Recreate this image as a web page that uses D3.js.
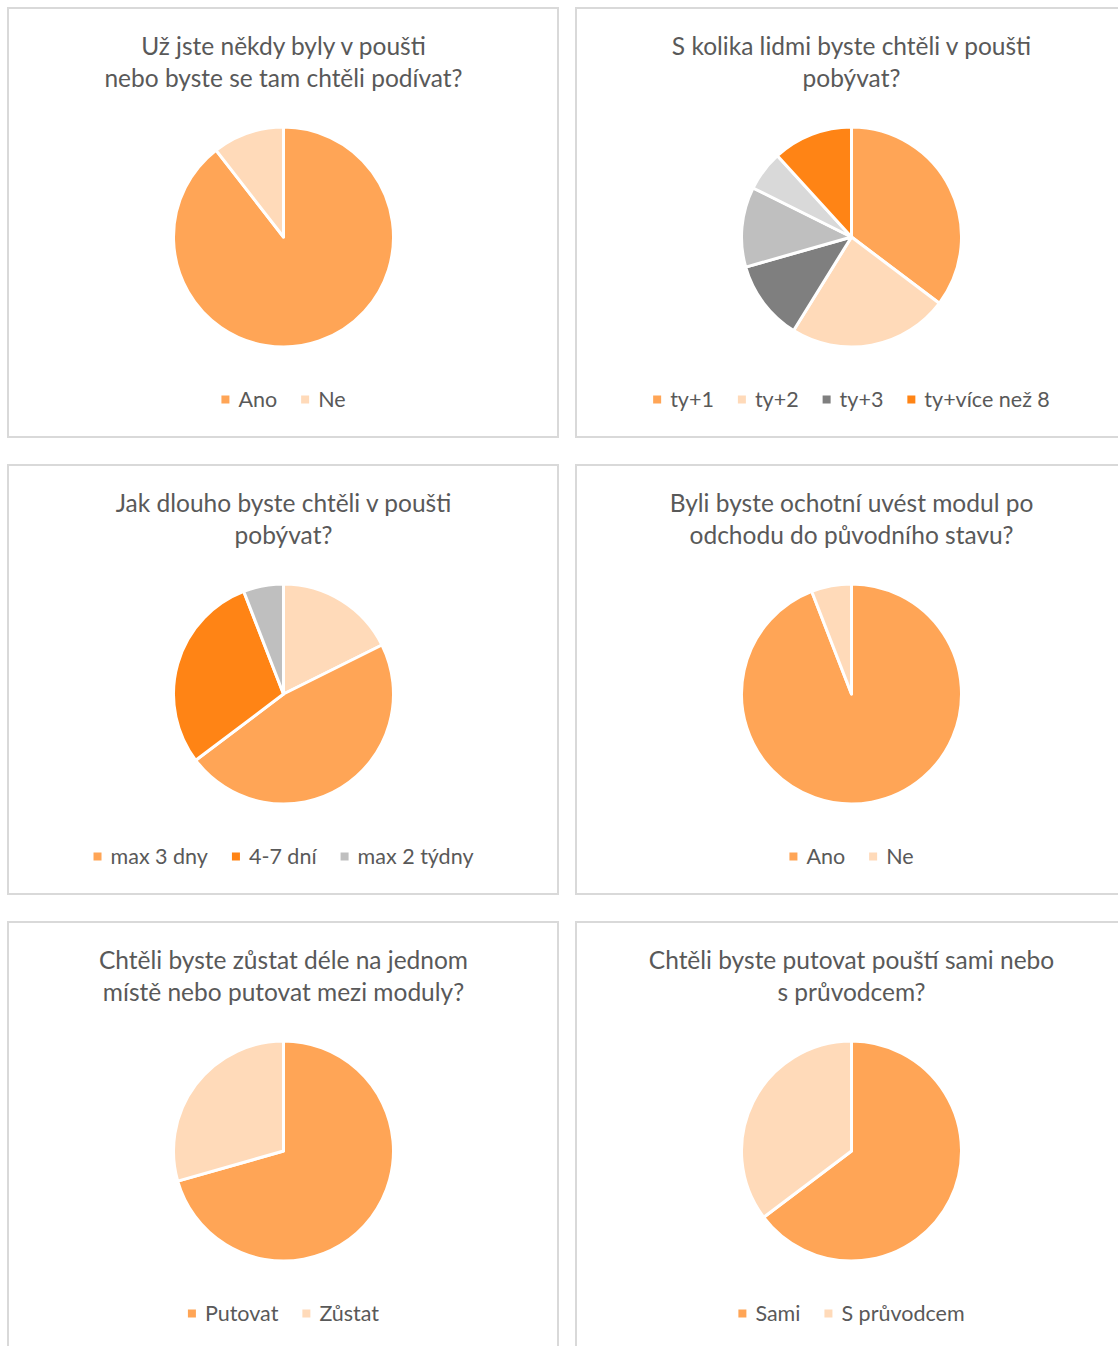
<!DOCTYPE html>
<html>
<head>
<meta charset="utf-8">
<script src="https://cdn.jsdelivr.net/npm/d3@7"></script>
<style>
  html, body { margin: 0; padding: 0; background: #fff; }
  svg { display: block; }
</style>
</head>
<body>
<svg id="chart" width="1118" height="1346"></svg>
<script>
// ---- Data ----
const titles = [
  ["Už jste někdy byly v poušti", "nebo byste se tam chtěli podívat?"],
  ["S kolika lidmi byste chtěli v poušti", "pobývat?"],
  ["Jak dlouho byste chtěli v poušti", "pobývat?"],
  ["Byli byste ochotní uvést modul po", "odchodu do původního stavu?"],
  ["Chtěli byste zůstat déle na jednom", "místě nebo putovat mezi moduly?"],
  ["Chtěli byste putovat pouští sami nebo", "s průvodcem?"]
];

const categories1 = ["Ano", "Ne"];
const values1 = [17, 2];

const categories2 = ["ty+1", "ty+2", "ty+3", "ty+4", "ty+5 až 8", "ty+více než 8"];
const values2 = [6, 4, 2, 2, 1, 2];
const legendShown2 = ["ty+1", "ty+2", "ty+3", "ty+více než 8"];

const categories3 = ["1 den", "max 3 dny", "4-7 dní", "max 2 týdny"];
const values3 = [3, 8, 5, 1];
const legendShown3 = ["max 3 dny", "4-7 dní", "max 2 týdny"];

const categories4 = ["Ano", "Ne"];
const values4 = [16, 1];

const categories5 = ["Putovat", "Zůstat"];
const values5 = [12, 5];

const categories6 = ["Sami", "S průvodcem"];
const values6 = [11, 6];

const colors1 = ["#FFA556", "#FFDAB9"];
const colors2 = ["#FFA556", "#FFDAB9", "#7F7F7F", "#BFBFBF", "#D9D9D9", "#FF8415"];
const colors3 = ["#FFDAB9", "#FFA556", "#FF8415", "#BFBFBF"];

const charts = [
  { cats: categories1, vals: values1, cols: colors1, legend: categories1 },
  { cats: categories2, vals: values2, cols: colors2, legend: legendShown2 },
  { cats: categories3, vals: values3, cols: colors3, legend: legendShown3 },
  { cats: categories4, vals: values4, cols: colors1, legend: categories4 },
  { cats: categories5, vals: values5, cols: colors1, legend: categories5 },
  { cats: categories6, vals: values6, cols: colors1, legend: categories6 }
];

// ---- Layout ----
const svg = d3.select("#chart");
const panelW = 550, panelH = 429;
const colX = [8, 576], rowY = [8, 465, 922];
const textColor = "#595959";
const fontFamily = "Lato, 'Open Sans', sans-serif";
const radius = 110;

const pie = d3.pie().sort(null).value(d => d.v);
const arc = d3.arc().innerRadius(0).outerRadius(radius);

charts.forEach((c, i) => {
  const px = colX[i % 2], py = rowY[Math.floor(i / 2)];
  const g = svg.append("g").attr("transform", `translate(${px},${py})`);

  g.append("rect")
    .attr("x", 0).attr("y", 0).attr("width", panelW).attr("height", panelH)
    .attr("fill", "#fff").attr("stroke", "#D9D9D9").attr("stroke-width", 2);

  const cx = panelW / 2 + 0.5;

  // title
  const t = g.append("text")
    .attr("text-anchor", "middle")
    .attr("font-family", fontFamily)
    .attr("font-size", 24.5)
    .attr("fill", textColor);
  titles[i].forEach((line, k) => {
    t.append("tspan").attr("x", cx).attr("y", 46.5 + k * 32).text(line);
  });

  // pie
  const color = d3.scaleOrdinal().domain(c.cats).range(c.cols);
  const data = c.cats.map((k, j) => ({ k, v: c.vals[j] }));
  const pg = g.append("g").attr("transform", `translate(${cx},229)`);
  pg.selectAll("path")
    .data(pie(data))
    .join("path")
    .attr("d", arc)
    .attr("fill", d => color(d.data.k))
    .attr("stroke", "#fff")
    .attr("stroke-width", 3)
    .attr("stroke-linejoin", "round");

  // legend
  const lg = g.append("g").attr("transform", `translate(0,398.5)`);
  const items = lg.selectAll("g.item")
    .data(c.legend)
    .join("g").attr("class", "item");
  items.append("rect")
    .attr("width", 8).attr("height", 8).attr("y", -11)
    .attr("fill", d => color(d));
  items.append("text")
    .attr("x", 17).attr("y", 0)
    .attr("font-family", fontFamily)
    .attr("font-size", 21.5)
    .attr("fill", textColor)
    .text(d => d);
  let widths = [];
  items.each(function () {
    const tw = d3.select(this).select("text").node().getComputedTextLength();
    widths.push(17 + tw);
  });
  const gap = 24;
  const total = d3.sum(widths) + gap * (widths.length - 1);
  let x0 = cx - total / 2;
  items.attr("transform", (d, j) => {
    const x = x0;
    x0 += widths[j] + gap;
    return `translate(${x},0)`;
  });
});
</script>
</body>
</html>
